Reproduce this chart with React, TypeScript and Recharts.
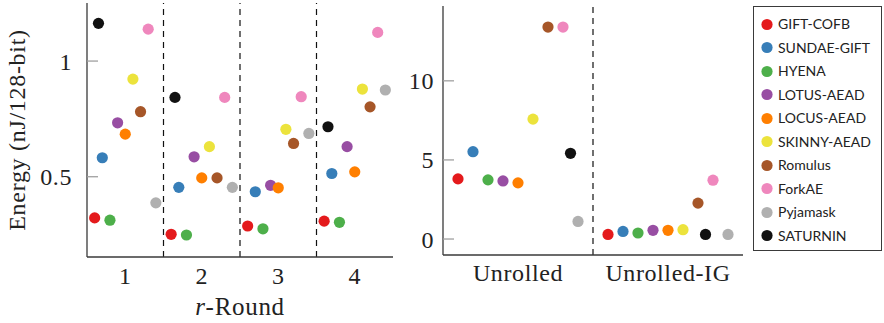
import {
  ScatterChart,
  Scatter,
  XAxis,
  YAxis,
  ReferenceLine,
} from "recharts";

const schemes = [
  "GIFT-COFB",
  "SUNDAE-GIFT",
  "HYENA",
  "LOTUS-AEAD",
  "LOCUS-AEAD",
  "SKINNY-AEAD",
  "Romulus",
  "ForkAE",
  "Pyjamask",
  "SATURNIN",
];

const colors = [
  "#e41a1c",
  "#377eb8",
  "#4daf4a",
  "#984ea3",
  "#ff7f00",
  "#ece33c",
  "#a65628",
  "#ef87bd",
  "#b0b0b0",
  "#111111",
];

// r-Round panel
const rounds = [1, 2, 3, 4];
const roundOffsets = [-0.4, -0.3, -0.2, -0.1, 0, 0.1, 0.2, 0.3, 0.4, -0.35];
const roundEnergy: (number | null)[][] = [
  [0.322, 0.251, 0.287, 0.308],
  [0.582, 0.454, 0.435, 0.514],
  [0.312, 0.248, 0.275, 0.303],
  [0.733, 0.586, 0.463, 0.63],
  [0.684, 0.495, 0.452, 0.521],
  [0.922, 0.63, 0.705, 0.879],
  [0.781, 0.495, 0.644, 0.802],
  [1.138, 0.843, 0.846, 1.124],
  [0.387, 0.454, 0.687, 0.875],
  [1.163, 0.843, null, 0.716],
];

// unrolled panel
const variants = ["Unrolled", "Unrolled-IG"];
const unrolledOffsets = [-0.4, -0.3, -0.2, -0.1, 0, 0.1, 0.2, 0.3, 0.4, 0.35];
const unrolledIgOffsets = [-0.4, -0.3, -0.2, -0.1, 0, 0.1, 0.2, 0.3, 0.4, 0.25];
const unrolledEnergy = [
  [3.8, 0.29],
  [5.52, 0.48],
  [3.74, 0.38],
  [3.67, 0.55],
  [3.55, 0.55],
  [7.58, 0.59],
  [13.4, 2.27],
  [13.4, 3.72],
  [1.11, 0.29],
  [5.42, 0.29],
];

const serif = "'Liberation Serif', serif";
const frame = "#3a3a3a";
const tickGray = "#a0a0a0";

const Dot = (props: any) => (
  <circle cx={props.cx} cy={props.cy} r={5.6} fill={props.fill} />
);

export default function App() {
  const roundSeries = schemes.map((name, i) => ({
    name,
    color: colors[i],
    points: rounds
      .map((r, j) => ({ x: r + roundOffsets[i], y: roundEnergy[i][j] }))
      .filter((p) => p.y !== null),
  }));

  const unrolledSeries = schemes.map((name, i) => ({
    name,
    color: colors[i],
    points: [
      { x: 1 + unrolledOffsets[i], y: unrolledEnergy[i][0] },
      { x: 2 + unrolledIgOffsets[i], y: unrolledEnergy[i][1] },
    ],
  }));

  const tickFont = {
    fontFamily: serif,
    fontSize: 24,
    letterSpacing: 0.6,
    fill: "#222",
  };

  return (
    <div
      style={{
        position: "absolute",
        left: 0,
        top: 0,
        width: 884,
        height: 323,
        background: "#fff",
      }}
    >
      <div style={{ position: "absolute", left: 0, top: 0 }}>
        <ScatterChart
          width={400}
          height={323}
          margin={{ top: 3, right: 7, bottom: 0, left: 0 }}
        >
          <XAxis
            xAxisId="b"
            type="number"
            dataKey="x"
            domain={[0.5, 4.5]}
            ticks={rounds}
            tickLine={false}
            tickSize={0}
            tickMargin={10}
            height={66}
            stroke={frame}
            strokeWidth={1.3}
            tick={tickFont}
            label={{
              content: (p: any) => (
                <text
                  x={p.viewBox.x + p.viewBox.width / 2}
                  y={p.viewBox.y + 58}
                  textAnchor="middle"
                  fontFamily={serif}
                  fontSize={25}
                  letterSpacing={0.7}
                  fill="#222"
                >
                  <tspan fontStyle="italic">r</tspan>-Round
                </text>
              ),
            }}
          />
          <XAxis
            xAxisId="t"
            orientation="top"
            type="number"
            dataKey="x"
            domain={[0.5, 4.5]}
            tick={false}
            tickLine={false}
            height={0}
            stroke={frame}
            strokeWidth={1.3}
          />
          <YAxis
            yAxisId="l"
            type="number"
            dataKey="y"
            domain={[0.153, 1.251]}
            ticks={[0.5, 1]}
            width={87}
            tickSize={-11}
            tickMargin={26}
            tickLine={{ stroke: tickGray }}
            stroke={frame}
            strokeWidth={1.3}
            tick={tickFont}
            label={{
              content: (p: any) => {
                const cx = 25;
                const cy = p.viewBox.y + p.viewBox.height / 2;
                return (
                  <text
                    x={cx}
                    y={cy}
                    transform={`rotate(-90, ${cx}, ${cy})`}
                    textAnchor="middle"
                    fontFamily={serif}
                    fontSize={24}
                    letterSpacing={0.7}
                    fill="#222"
                  >
                    Energy (nJ/128-bit)
                  </text>
                );
              },
            }}
          />
          <YAxis
            yAxisId="r"
            orientation="right"
            type="number"
            dataKey="y"
            domain={[0.153, 1.251]}
            ticks={[0.5, 1]}
            width={0}
            tick={false}
            tickSize={-11}
            tickLine={{ stroke: tickGray }}
            stroke={frame}
            strokeWidth={1.3}
          />
          {[1.5, 2.5, 3.5].map((x) => (
            <ReferenceLine
              key={x}
              x={x}
              xAxisId="b"
              yAxisId="l"
              stroke="#111"
              strokeWidth={1.2}
              strokeDasharray="6 5"
            />
          ))}
          {roundSeries.map((s) => (
            <Scatter
              key={s.name}
              name={s.name}
              data={s.points}
              xAxisId="b"
              yAxisId="l"
              fill={s.color}
              shape={Dot}
              isAnimationActive={false}
            />
          ))}
        </ScatterChart>
      </div>

      <div style={{ position: "absolute", left: 380, top: 0 }}>
        <ScatterChart
          width={370}
          height={323}
          margin={{ top: 6, right: 7, bottom: 0, left: 0 }}
        >
          <XAxis
            xAxisId="b"
            type="number"
            dataKey="x"
            domain={[0.5, 2.5]}
            ticks={[1, 2]}
            tickFormatter={(v: number) => variants[v - 1]}
            tickLine={false}
            tickSize={0}
            tickMargin={9}
            height={68}
            stroke={frame}
            strokeWidth={1.3}
            tick={tickFont}
          />
          <XAxis
            xAxisId="t"
            orientation="top"
            type="number"
            dataKey="x"
            domain={[0.5, 2.5]}
            tick={false}
            tickLine={false}
            height={0}
            stroke={frame}
            strokeWidth={1.3}
          />
          <YAxis
            yAxisId="l"
            type="number"
            dataKey="y"
            domain={[-1.01, 14.73]}
            ticks={[0, 5, 10]}
            width={63}
            tickSize={-11}
            tickMargin={20}
            tickLine={{ stroke: tickGray }}
            stroke={frame}
            strokeWidth={1.3}
            tick={tickFont}
          />
          <YAxis
            yAxisId="r"
            orientation="right"
            type="number"
            dataKey="y"
            domain={[-1.01, 14.73]}
            ticks={[0, 5, 10]}
            width={0}
            tick={false}
            tickSize={-11}
            tickLine={{ stroke: tickGray }}
            stroke={frame}
            strokeWidth={1.3}
          />
          <ReferenceLine
            x={1.5}
            xAxisId="b"
            yAxisId="l"
            stroke="#111"
            strokeWidth={1.2}
            strokeDasharray="6 5"
          />
          {unrolledSeries.map((s) => (
            <Scatter
              key={s.name}
              name={s.name}
              data={s.points}
              xAxisId="b"
              yAxisId="l"
              fill={s.color}
              shape={Dot}
              isAnimationActive={false}
            />
          ))}
        </ScatterChart>
      </div>

      <div
        style={{
          position: "absolute",
          left: 753,
          top: 6,
          width: 129,
          height: 245,
          border: `1.3px solid ${frame}`,
          boxSizing: "border-box",
          paddingTop: 5,
        }}
      >
        {schemes.map((name, i) => (
          <div
            key={name}
            style={{
              display: "flex",
              alignItems: "center",
              height: 23.5,
              fontFamily: "Lato, sans-serif",
              fontSize: 14,
              color: "#222",
            }}
          >
            <svg width={24} height={14}>
              <circle cx={13} cy={7.5} r={5.6} fill={colors[i]} />
            </svg>
            <span>{name}</span>
          </div>
        ))}
      </div>
    </div>
  );
}
